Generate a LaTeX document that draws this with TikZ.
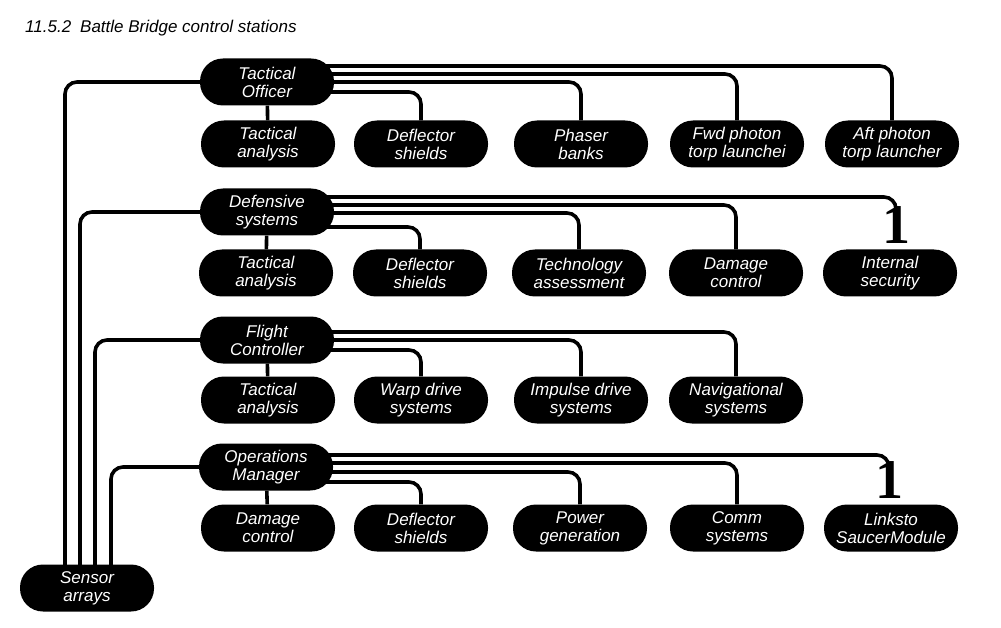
\documentclass[tikz,border=0pt]{standalone}
\usepackage{fontspec}
\setmainfont{Liberation Sans}
\newfontfamily\numfont{Liberation Serif}
\usetikzlibrary{calc,backgrounds}

\begin{document}
\begin{tikzpicture}[x=1pt, y=-1pt,
	station/.style={rectangle, rounded corners=23pt, fill=black, text=white, minimum width=134pt, minimum height=47pt, inner sep=0pt, align=center, font=\fontsize{17}{18}\selectfont\itshape},
	wire/.style={line width=3.6pt, rounded corners=12pt},
	digit/.style={font=\numfont\bfseries\fontsize{56}{56}\selectfont, inner sep=0pt, anchor=north}]
	\useasboundingbox (0,0) rectangle (1001,628);
	
	\node[anchor=base west, inner sep=0pt, font=\fontsize{17}{18}\selectfont\itshape] (title) at (25,33) {11.5.2\hspace{9pt}Battle Bridge control stations};
	
	% stations
	\node[station] (to) at (267,82) {Tactical\\Officer};
	\node[station] (ds) at (267,212) {Defensive\\systems};
	\node[station] (fc) at (267,340) {Flight\\Controller};
	\node[station] (om) at (266,467) {Operations\\Manager};
	\node[station] (sa) at (87,588) {Sensor\\arrays};
	
	\foreach \n/\x/\t in {ta1/268/{Tactical\\analysis}, ds1/421/{Deflector\\shields}, pb/581/{Phaser\\banks}, fwd/737/{Fwd photon\\torp launchei}, aft/892/{Aft photon\\torp launcher}}
		\node[station] (\n) at (\x,144) {\t};
	\foreach \n/\x/\t in {ta2/266/{Tactical\\analysis}, ds2/420/{Deflector\\shields}, tech/579/{Technology\\assessment}, dc2/736/{Damage\\control}, isec/890/{Internal\\security}}
		\node[station] (\n) at (\x,273) {\t};
	\foreach \n/\x/\t in {ta3/268/{Tactical\\analysis}, wd/421/{Warp drive\\systems}, id/581/{Impulse drive\\systems}, nav/736/{Navigational\\systems}}
		\node[station] (\n) at (\x,400) {\t};
	\foreach \n/\x/\t in {dc4/268/{Damage\\control}, ds4/421/{Deflector\\shields}, pg/580/{Power\\generation}, comm/737/{Comm\\systems}, links/891/{Linksto\\SaucerModule}}
		\node[station] (\n) at (\x,528) {\t};
	
	\node[digit] (one1) at (896,206) {1};
	\node[digit] (one2) at (889,461) {1};
	
	% connectors
	\begin{scope}[on background layer]
		\foreach \h/\d in {to/-22, ds/-7, fc/8, om/24}
			\draw[wire] (\h) -| ($(sa)+(\d,0)$);
		
		\foreach \c/\d in {aft/-16, fwd/-8, pb/0, ds1/10}
			\draw[wire] ($(to)+(0,\d)$) -| (\c);
		\draw[wire] (to) -- (ta1);
		
		\draw[wire] ($(ds)+(0,-15)$) -| ($(one1.north)+(0,7)$);
		\foreach \c/\d in {dc2/-7, tech/1, ds2/15}
			\draw[wire] ($(ds)+(0,\d)$) -| (\c);
		\draw[wire] (ds) -- (ta2);
		
		\foreach \c/\d in {nav/-8, id/0, wd/10}
			\draw[wire] ($(fc)+(0,\d)$) -| (\c);
		\draw[wire] (fc) -- (ta3);
		
		\draw[wire] ($(om)+(0,-12)$) -| ($(one2.north)+(0,9)$);
		\foreach \c/\d in {comm/-4, pg/5, ds4/15}
			\draw[wire] ($(om)+(0,\d)$) -| (\c);
		\draw[wire] (om) -- (dc4);
	\end{scope}
\end{tikzpicture}
\end{document}
